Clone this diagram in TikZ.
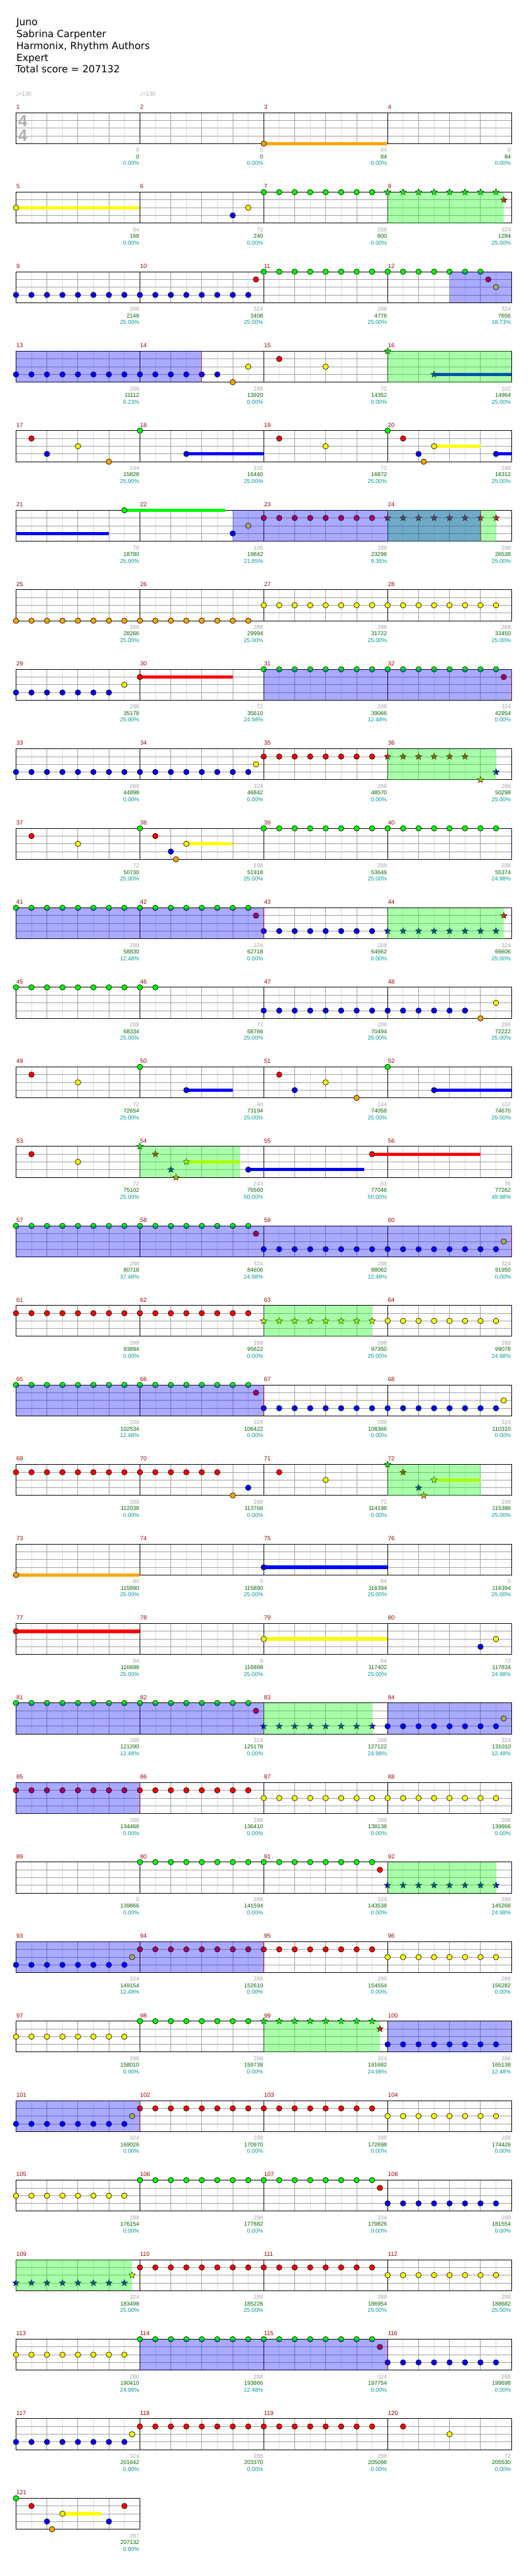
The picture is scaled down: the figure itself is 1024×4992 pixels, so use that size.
\documentclass[tikz,border=0pt]{standalone}
\usepackage{fontspec}
\setmainfont{DejaVu Sans}
\newfontfamily\labelfont{Liberation Sans}
\newfontfamily\symbfont{DejaVu Sans}
\usepackage{xcolor}

\definecolor{lane0}{RGB}{0,255,0}
\definecolor{lane1}{RGB}{255,0,0}
\definecolor{lane2}{RGB}{255,255,0}
\definecolor{lane3}{RGB}{0,0,255}
\definecolor{lane4}{RGB}{255,165,0}
\definecolor{barnum}{RGB}{150,0,0}
\definecolor{notecount}{RGB}{165,165,165}
\definecolor{runscore}{RGB}{0,100,0}
\definecolor{bonuspct}{RGB}{0,150,150}
\definecolor{beatgrey}{RGB}{160,160,160}
\definecolor{halfgrey}{RGB}{220,220,220}
\definecolor{sigrey}{RGB}{175,175,175}

\tikzset{
  gem/.style={draw=black, line width=0.8pt},
  sustainbar/.style={line width=6.5pt},
  eighthline/.style={halfgrey, line width=1pt},
  beatline/.style={beatgrey, line width=1pt},
  laneline/.style={beatgrey, line width=1pt},
  barline/.style={black, line width=1.2pt},
  barno/.style={barnum, font=\labelfont\fontsize{11.5}{13}\selectfont, anchor=base west, inner sep=0pt},
  tally/.style={font=\labelfont\fontsize{11}{13}\selectfont, anchor=base east, inner sep=0pt},
  spfill/.style={fill=lane0, fill opacity=0.333},
  odfill/.style={fill=lane3, fill opacity=0.333},
  odend/.style={red, line width=0.8pt, opacity=0.6},
  odstart/.style={blue, line width=1pt, opacity=0.6},
  header/.style={font=\fontsize{19}{23}\selectfont, anchor=base west, inner sep=0pt},
  tempo/.style={notecount, font=\labelfont\fontsize{11}{13}\selectfont, anchor=base west, inner sep=0pt},
  timesig/.style={sigrey, font=\labelfont\bfseries\fontsize{32}{32}\selectfont, inner sep=0pt},
}

% measure m, sixteenth k, lane l -> \nx,\ny
\newcommand\notexy[3]{%
  \pgfmathtruncatemacro\nrow{(#1-1)/4}%
  \pgfmathsetmacro\nx{31+240*(#1-1-4*\nrow)+15*#2}%
  \pgfmathsetmacro\ny{218.3+154.1*\nrow+15*#3}}
\newcommand\gem[3]{\notexy{#1}{#2}{#3}\filldraw[gem, fill=lane#3] (\nx,\ny) circle (5.3pt);}
\newcommand\sgem[3]{\notexy{#1}{#2}{#3}\filldraw[gem, line width=0.6pt, fill=lane#3] (\nx,\ny)
  +(-90:6.6) -- +(-54:2.8) -- +(-18:6.6) -- +(18:2.8) -- +(54:6.6) -- +(90:2.8)
  -- +(126:6.6) -- +(162:2.8) -- +(198:6.6) -- +(234:2.8) -- cycle;}
\newcommand\gems[3]{\foreach \i in {1,...,#3}{\pgfmathsetmacro\kk{2*\i-2}\gem{#1}{\kk}{#2}}}
\newcommand\sgems[3]{\foreach \i in {1,...,#3}{\pgfmathsetmacro\kk{2*\i-2}\sgem{#1}{\kk}{#2}}}
\newcommand\sustain[4]{\notexy{#1}{#2}{#3}\pgfmathsetmacro\nxe{\nx+15*(#4-#2)}%
  \draw[sustainbar, draw=lane#3] (\nx,\ny) -- (\nxe,\ny);}
\newcommand\spzone[3]{\notexy{#1}{#2}{0}\pgfmathsetmacro\nxe{\nx+15*(#3-#2)}%
  \fill[spfill] (\nx,\ny) rectangle (\nxe,\ny+60);}
\newcommand\odzone[3]{\notexy{#1}{#2}{0}\pgfmathsetmacro\nxe{\nx+15*(#3-#2)}%
  \fill[odfill] (\nx,\ny) rectangle (\nxe,\ny+60);}
\newcommand\zoneline[3]{\notexy{#2}{#3}{0}\draw[#1] (\nx,\ny) -- (\nx,\ny+60);}

\begin{document}
\begin{tikzpicture}[x=1pt, y=-1pt]
  \useasboundingbox (0,0) rectangle (1024,4992);

  \node[header] (song) at (31.5,49.3) {Juno};
  \node[header] (artist) at (31.5,72.3) {Sabrina Carpenter};
  \node[header] (charter) at (31.5,95.3) {Harmonix, Rhythm Authors};
  \node[header] (level) at (31.5,118.3) {Expert};
  \node[header] (total) at (30,141.3) {Total score = 207132};

  \node[tempo] (bpm1) at (31,185.3) {{\symbfont ♩}=130};
  \node[tempo] (bpm2) at (271,185.3) {{\symbfont ♩}=130};

  % staves
  \foreach \m/\cnt/\tot/\pct in {
    1/0/0/0.00, 2/0/0/0.00, 3/84/84/0.00, 4/0/84/0.00,
    5/84/168/0.00, 6/72/240/0.00, 7/288/600/0.00, 8/324/1284/25.00,
    9/288/2148/25.00, 10/324/3408/25.00, 11/288/4776/25.00, 12/324/7656/18.73,
    13/288/11112/6.23, 14/288/13920/0.00, 15/72/14352/0.00, 16/102/14964/25.00,
    17/144/15828/25.00, 18/102/16440/25.00, 19/72/16872/25.00, 20/240/18312/25.00,
    21/78/18780/25.00, 22/105/19842/21.85, 23/288/23298/9.35, 24/288/26538/25.00,
    25/288/28266/25.00, 26/288/29994/25.00, 27/288/31722/25.00, 28/288/33450/25.00,
    29/288/35178/25.00, 30/72/35610/24.98, 31/288/39066/12.48, 32/324/42954/0.00,
    33/288/44898/0.00, 34/324/46842/0.00, 35/288/48570/0.00, 36/288/50298/25.00,
    37/72/50730/25.00, 38/198/51918/25.00, 39/288/53646/25.00, 40/288/55374/24.98,
    41/288/58830/12.48, 42/324/62718/0.00, 43/288/64662/0.00, 44/324/66606/25.00,
    45/288/68334/25.00, 46/72/68766/25.00, 47/288/70494/25.00, 48/288/72222/25.00,
    49/72/72654/25.00, 50/90/73194/25.00, 51/144/74058/25.00, 52/102/74670/25.00,
    53/72/75102/25.00, 54/243/76560/50.00, 55/81/77046/50.00, 56/36/77262/49.98,
    57/288/80718/37.48, 58/324/84606/24.98, 59/288/88062/12.48, 60/324/91950/0.00,
    61/288/93894/0.00, 62/288/95622/0.00, 63/288/97350/25.00, 64/288/99078/24.98,
    65/288/102534/12.48, 66/324/106422/0.00, 67/288/108366/0.00, 68/324/110310/0.00,
    69/288/112038/0.00, 70/288/113766/0.00, 71/72/114198/0.00, 72/198/115386/25.00,
    73/84/115890/25.00, 74/0/115890/25.00, 75/84/116394/25.00, 76/0/116394/25.00,
    77/84/116898/25.00, 78/0/116898/25.00, 79/84/117402/25.00, 80/72/117834/24.98,
    81/288/121290/12.48, 82/324/125178/0.00, 83/288/127122/24.98, 84/324/131010/12.48,
    85/288/134466/0.00, 86/288/136410/0.00, 87/288/138138/0.00, 88/288/139866/0.00,
    89/0/139866/0.00, 90/288/141594/0.00, 91/324/143538/0.00, 92/288/145266/24.98,
    93/324/149154/12.48, 94/288/152610/0.00, 95/288/154554/0.00, 96/288/156282/0.00,
    97/288/158010/0.00, 98/288/159738/0.00, 99/324/161682/24.98, 100/288/165138/12.48,
    101/324/169026/0.00, 102/288/170970/0.00, 103/288/172698/0.00, 104/288/174426/0.00,
    105/288/176154/0.00, 106/288/177882/0.00, 107/324/179826/0.00, 108/288/181554/0.00,
    109/324/183498/25.00, 110/288/185226/25.00, 111/288/186954/25.00, 112/288/188682/25.00,
    113/288/190410/24.98, 114/288/193866/12.48, 115/324/197754/0.00, 116/288/199698/0.00,
    117/324/201642/0.00, 118/288/203370/0.00, 119/288/205098/0.00, 120/72/205530/0.00,
    121/267/207132/0.00}{
    \pgfmathtruncatemacro\rw{(\m-1)/4}
    \pgfmathtruncatemacro\cl{\m-1-4*\rw}
    \begin{scope}[shift={(31+240*\cl,218.3+154.1*\rw)}]
      \foreach \i in {30,90,150,210} \draw[eighthline] (\i,0) -- (\i,60);
      \foreach \i in {60,120,180} \draw[beatline] (\i,0) -- (\i,60);
      \foreach \j in {15,30,45} \draw[laneline] (0,\j) -- (240,\j);
      \draw[barline] (0,0) rectangle (240,60);
      \node[barno] (bar\m) at (0.5,-7) {\m};
      \node[tally, notecount] (cnt\m) at (239,76.4) {\cnt};
      \node[tally, runscore] (tot\m) at (239,89) {\tot};
      \node[tally, bonuspct] (pct\m) at (239,102) {\pct\%};
    \end{scope}
  }

  \node[timesig] (tsig1) at (44,234) {4};
  \node[timesig] (tsig2) at (44,263) {4};

  % notes
  \sustain{3}{0}{4}{16} \gem{3}{0}{4}
  \sustain{5}{0}{2}{16} \gem{5}{0}{2}
  \gem{6}{12}{3} \gem{6}{14}{2}
  \gems{7}{0}{8}
  \sgems{8}{0}{8} \sgem{8}{15}{1}
  \gems{9}{3}{8}
  \gems{10}{3}{8} \gem{10}{15}{1}
  \gems{11}{0}{8}
  \gems{12}{0}{7} \gem{12}{13}{1} \gem{12}{14}{2}
  \gems{13}{3}{8}
  \gems{14}{3}{6} \gem{14}{12}{4} \gem{14}{14}{2}
  \gem{15}{2}{1} \gem{15}{8}{2}
  \sgem{16}{0}{0} \sustain{16}{6}{3}{16} \sgem{16}{6}{3}
  \gem{17}{2}{1} \gem{17}{4}{3} \gem{17}{8}{2} \gem{17}{12}{4}
  \gem{18}{0}{0} \sustain{18}{6}{3}{16} \gem{18}{6}{3}
  \gem{19}{2}{1} \gem{19}{8}{2}
  \gem{20}{0}{0} \gem{20}{2}{1} \gem{20}{4}{3} \gem{20}{4.667}{4}
  \sustain{20}{6}{2}{12} \gem{20}{6}{2} \sustain{20}{14}{3}{16} \gem{20}{14}{3}
  \sustain{21}{0}{3}{12} \sustain{21}{14}{0}{27} \gem{21}{14}{0}
  \gem{22}{12}{3} \gem{22}{14}{2}
  \gems{23}{1}{8}
  \sgems{24}{1}{8}
  \gems{25}{4}{8} \gems{26}{4}{8} \gems{27}{2}{8} \gems{28}{2}{8}
  \gems{29}{3}{7} \gem{29}{14}{2}
  \sustain{30}{0}{1}{12} \gem{30}{0}{1}
  \gems{31}{0}{8}
  \gems{32}{0}{8} \gem{32}{15}{1}
  \gems{33}{3}{8}
  \gems{34}{3}{8} \gem{34}{15}{2}
  \gems{35}{1}{8}
  \sgems{36}{1}{6} \sgem{36}{12}{4} \sgem{36}{14}{3}
  \gem{37}{2}{1} \gem{37}{8}{2}
  \gem{38}{0}{0} \gem{38}{2}{1} \gem{38}{4}{3} \gem{38}{4.667}{4}
  \sustain{38}{6}{2}{12} \gem{38}{6}{2}
  \gems{39}{0}{8} \gems{40}{0}{8} \gems{41}{0}{8}
  \gems{42}{0}{8} \gem{42}{15}{1}
  \gems{43}{3}{8}
  \sgems{44}{3}{8} \sgem{44}{15}{1}
  \gems{45}{0}{8} \gems{46}{0}{2} \gems{47}{3}{8}
  \gems{48}{3}{6} \gem{48}{12}{4} \gem{48}{14}{2}
  \gem{49}{2}{1} \gem{49}{8}{2}
  \gem{50}{0}{0} \sustain{50}{6}{3}{12} \gem{50}{6}{3}
  \gem{51}{2}{1} \gem{51}{4}{3} \gem{51}{8}{2} \gem{51}{12}{4}
  \gem{52}{0}{0} \sustain{52}{6}{3}{16} \gem{52}{6}{3}
  \gem{53}{2}{1} \gem{53}{8}{2}
  \sgem{54}{0}{0} \sgem{54}{2}{1} \sgem{54}{4}{3} \sgem{54}{4.667}{4}
  \sustain{54}{6}{2}{13} \sgem{54}{6}{2} \sustain{54}{14}{3}{29} \gem{54}{14}{3}
  \sustain{55}{14}{1}{28} \gem{55}{14}{1}
  \gems{57}{0}{8}
  \gems{58}{0}{8} \gem{58}{15}{1}
  \gems{59}{3}{8}
  \gems{60}{3}{8} \gem{60}{15}{2}
  \gems{61}{1}{8} \gems{62}{1}{8} \sgems{63}{2}{8} \gems{64}{2}{8}
  \gems{65}{0}{8}
  \gems{66}{0}{8} \gem{66}{15}{1}
  \gems{67}{3}{8}
  \gems{68}{3}{8} \gem{68}{15}{2}
  \gems{69}{1}{8}
  \gems{70}{1}{6} \gem{70}{12}{4} \gem{70}{14}{3}
  \gem{71}{2}{1} \gem{71}{8}{2}
  \sgem{72}{0}{0} \sgem{72}{2}{1} \sgem{72}{4}{3} \sgem{72}{4.667}{4}
  \sustain{72}{6}{2}{12} \sgem{72}{6}{2}
  \sustain{73}{0}{4}{16} \gem{73}{0}{4}
  \sustain{75}{0}{3}{16} \gem{75}{0}{3}
  \sustain{77}{0}{1}{16} \gem{77}{0}{1}
  \sustain{79}{0}{2}{16} \gem{79}{0}{2}
  \gem{80}{12}{3} \gem{80}{14}{2}
  \gems{81}{0}{8}
  \gems{82}{0}{8} \gem{82}{15}{1}
  \sgems{83}{3}{8}
  \gems{84}{3}{8} \gem{84}{15}{2}
  \gems{85}{1}{8} \gems{86}{1}{8} \gems{87}{2}{8} \gems{88}{2}{8}
  \gems{90}{0}{8}
  \gems{91}{0}{8} \gem{91}{15}{1}
  \sgems{92}{3}{8}
  \gems{93}{3}{8} \gem{93}{15}{2}
  \gems{94}{1}{8} \gems{95}{1}{8} \gems{96}{2}{8}
  \gems{97}{2}{8} \gems{98}{0}{8}
  \sgems{99}{0}{8} \sgem{99}{15}{1}
  \gems{100}{3}{8}
  \gems{101}{3}{8} \gem{101}{15}{2}
  \gems{102}{1}{8} \gems{103}{1}{8} \gems{104}{2}{8}
  \gems{105}{2}{8} \gems{106}{0}{8}
  \gems{107}{0}{8} \gem{107}{15}{1}
  \gems{108}{3}{8}
  \sgems{109}{3}{8} \sgem{109}{15}{2}
  \gems{110}{1}{8} \gems{111}{1}{8} \gems{112}{2}{8}
  \gems{113}{2}{8} \gems{114}{0}{8}
  \gems{115}{0}{8} \gem{115}{15}{1}
  \gems{116}{3}{8}
  \gems{117}{3}{8} \gem{117}{15}{2}
  \gems{118}{1}{8} \gems{119}{1}{8}
  \gem{120}{2}{1} \gem{120}{8}{2}
  \gem{121}{0}{0} \gem{121}{2}{1} \gem{121}{4}{3} \gem{121}{4.667}{4}
  \sustain{121}{6}{2}{11} \gem{121}{6}{2} \gem{121}{12}{3} \gem{121}{14}{1}

  % star power and overdrive
  \spzone{8}{0}{15} \spzone{16}{0}{16} \spzone{24}{0}{14} \spzone{36}{0}{14}
  \spzone{44}{0}{15} \spzone{54}{0}{13} \spzone{63}{0}{14} \spzone{72}{0}{12}
  \spzone{83}{0}{14} \spzone{92}{0}{14} \spzone{99}{0}{15} \spzone{109}{0}{15}
  \odzone{12}{8}{16} \odzone{13}{0}{24} \odzone{22}{12}{44} \odzone{31}{0}{32}
  \odzone{41}{0}{32} \odzone{57}{0}{64} \odzone{65}{0}{32} \odzone{81}{0}{32}
  \odzone{84}{0}{16} \odzone{85}{0}{16} \odzone{93}{0}{32} \odzone{100}{0}{16}
  \odzone{101}{0}{16} \odzone{114}{0}{32}
  \zoneline{odend}{14}{8} \zoneline{odend}{24}{12} \zoneline{odend}{32}{16}
  \zoneline{odend}{43}{0} \zoneline{odend}{60}{16} \zoneline{odend}{67}{0}
  \zoneline{odend}{86}{0} \zoneline{odend}{95}{0} \zoneline{odend}{102}{0}
  \zoneline{odend}{116}{0}
  \zoneline{odstart}{40}{16} \zoneline{odstart}{56}{16} \zoneline{odstart}{64}{16}
  \zoneline{odstart}{80}{16} \zoneline{odstart}{92}{16}
\end{tikzpicture}
\end{document}
